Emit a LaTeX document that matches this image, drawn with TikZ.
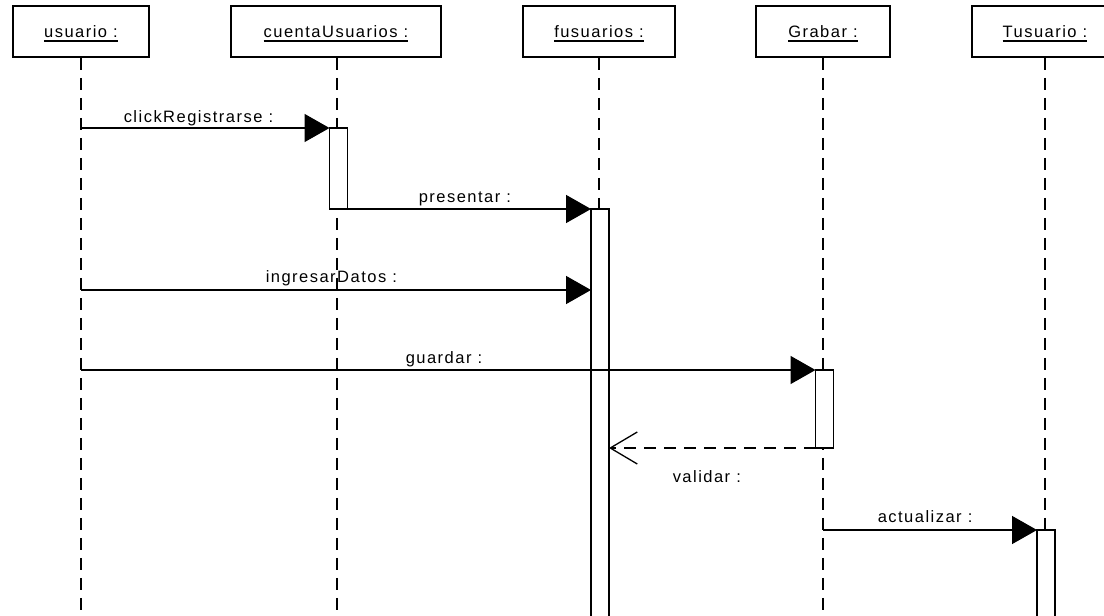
\documentclass[tikz,border=0pt]{standalone}
\usepackage{fontspec}
\setmainfont{Liberation Sans}[LetterSpace=9]
\usetikzlibrary{arrows.meta}
% underlined object name, as in UML instance heads
\newcommand\objname[1]{\setbox0\hbox{#1}\leavevmode\rlap{\smash{\vrule height -3pt depth 4.6pt width \wd0}}\box0}
\begin{document}
\begin{tikzpicture}[x=1pt,y=-1pt,line width=1.5pt,
  every node/.style={font=\fontsize{16.5}{19}\selectfont,inner sep=0pt},
  head/.style={draw,fill=white,minimum height=51pt},
  act/.style={draw,fill=white,minimum width=18pt,anchor=north,outer sep=0pt},
  life/.style={dash pattern=on 12pt off 8pt},
  msg/.style={-{Triangle[length=25pt,width=28pt]}},
  ret/.style={dash pattern=on 12pt off 8pt,-{Straight Barb[length=27pt,width=32pt,line width=1.3pt]}},
  lbl/.style={anchor=base west}]
\useasboundingbox (0,0) rectangle (1104,616);
\clip (0,0) rectangle (1104,616);
\fill[white] (0,0) rectangle (1104,616);

% object heads
\node[head,minimum width=136pt] (h1) at (81,31.5) {\objname{usuario :}};
\node[head,minimum width=210pt] (h2) at (336,31.5) {\objname{cuentaUsuarios :}};
\node[head,minimum width=152pt] (h3) at (599,31.5) {\objname{fusuarios :}};
\node[head,minimum width=134pt] (h4) at (823,31.5) {\objname{Grabar :}};
\node[head,minimum width=146pt] (h5) at (1045,31.5) {\objname{Tusuario :}};

% lifeline ends below the visible area
\coordinate (e1) at (81,630);
\coordinate (e2) at (337,630);
\coordinate (e3) at (599,630);
\coordinate (e4) at (823,630);
\coordinate (e5) at (1045,630);
\draw[life] (h1.south) -- (e1);
\draw[life] (h2.south -| e2) -- (e2);
\draw[life] (h3.south) -- (e3);
\draw[life] (h4.south) -- (e4);
\draw[life] (h5.south) -- (e5);

% activation bars
\node[act,minimum height=81pt] (a2) at (338.5,128) {};
\node[act,minimum height=420pt] (a3) at (600,209) {};
\node[act,minimum height=78pt] (a4) at (824.5,370) {};
\node[act,minimum height=100pt] (a5) at (1046,530) {};

% message sources on the lifelines
\coordinate (s1) at (81,128);
\coordinate (s3) at (81,290);
\coordinate (s4) at (81,370);
\coordinate (s6) at (823,530);

% messages
\draw[msg] (s1) -- (a2.north west);
\draw[msg] (a2.south east) -- (a3.north west);
\draw[msg] (s3) -- (s3 -| a3.west);
\draw[msg] (s4) -- (a4.north west);
\draw[ret] (a4.south west) -- (a4.south west -| a3.east);
\draw[msg] (s6) -- (a5.north west);

% message labels
\node[lbl] (l1) at (123,122) {clickRegistrarse :};
\node[lbl] (l2) at (418,202) {presentar :};
\node[lbl] (l3) at (265,282) {ingresarDatos :};
\node[lbl] (l4) at (405,363) {guardar :};
\node[lbl] (l5) at (672,482) {validar :};
\node[lbl] (l6) at (877,522) {actualizar :};
\end{tikzpicture}
\end{document}
